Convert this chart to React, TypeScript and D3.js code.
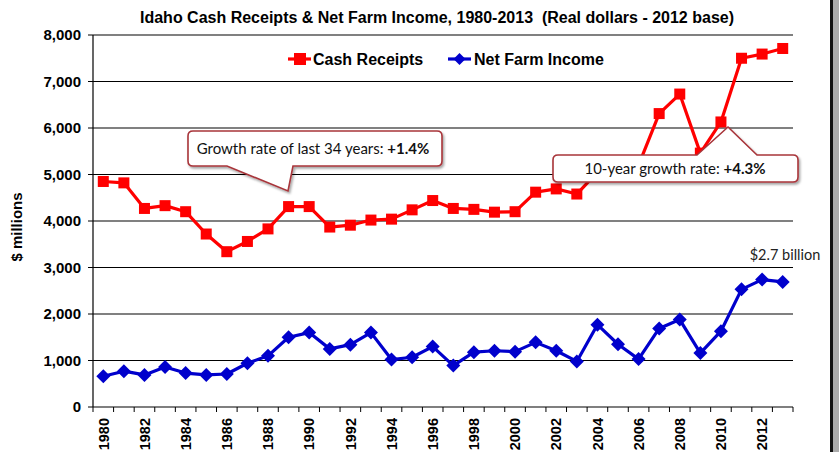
import React from "react";
import * as d3 from "d3";

const years: number[] = d3.range(1980, 2014);
const cashReceipts: number[] = [
  4850, 4820, 4270, 4330, 4200, 3720, 3340, 3560, 3830, 4310,
  4310, 3870, 3910, 4020, 4040, 4240, 4440, 4270, 4250, 4190,
  4200, 4620, 4690, 4580, 5050, 5100, 5200, 6310, 6730, 5460,
  6130, 7500, 7590, 7710,
];
const netFarmIncome: number[] = [
  660, 770, 690, 860, 730, 690, 710, 940, 1100, 1500,
  1600, 1250, 1340, 1600, 1020, 1070, 1300, 890, 1180, 1210,
  1190, 1390, 1210, 980, 1770, 1350, 1030, 1690, 1880, 1160,
  1630, 2530, 2740, 2690,
];
const yTicks: number[] = [0, 1000, 2000, 3000, 4000, 5000, 6000, 7000, 8000];
const xLabelYears: number[] = years.filter((y) => y % 2 === 0);

const W = 839;
const H = 452;
const L = 93;
const R = 793;
const T = 35;
const B = 407;

const RED = "#FF0000";
const BLUE = "#0000CC";
const BORDER = "#A8353A";

export default function App() {
  const x = d3.scaleBand<number>().domain(years).range([L, R]);
  const y = d3.scaleLinear().domain([0, 8000]).range([B, T]);
  const cx = (yr: number) => (x(yr) as number) + x.bandwidth() / 2;

  const line = d3
    .line<number>()
    .x((_, i) => cx(years[i]))
    .y((d) => y(d));

  const boundaries = years.map((yr) => x(yr) as number).concat([R]);
  const fontAxis = "'Liberation Sans', Arial, sans-serif";
  const fontNote = "Lato, Carlito, 'Open Sans', sans-serif";

  return (
    <div style={{ position: "absolute", left: 0, top: 0 }}>
      <svg width={W} height={H} style={{ display: "block", background: "#fff" }}>
        <defs>
          <filter id="sh" x="-10%" y="-30%" width="120%" height="180%">
            <feDropShadow dx="1.5" dy="2" stdDeviation="1.2" floodColor="#000" floodOpacity="0.35" />
          </filter>
        </defs>
        <rect x={0} y={0} width={W} height={H} fill="#fff" />

        {/* title */}
        <text
          x={437}
          y={23}
          textAnchor="middle"
          fontFamily={fontAxis}
          fontWeight="bold"
          fontSize={16}
          fill="#000"
        >
          Idaho Cash Receipts &amp; Net Farm Income, 1980-2013{"\u00a0\u00a0"}(Real dollars - 2012 base)
        </text>

        {/* gridlines */}
        {yTicks
          .filter((t) => t > 0)
          .map((t) => (
            <line
              key={"g" + t}
              x1={L}
              x2={R}
              y1={y(t)}
              y2={y(t)}
              stroke={(t / 1000) % 2 === 0 ? "#808080" : "#000"}
              strokeWidth={(t / 1000) % 2 === 0 ? 1.8 : 1.1}
            />
          ))}

        {/* y axis */}
        <line x1={L} x2={L} y1={T} y2={B} stroke="#000" strokeWidth={1.2} />
        {yTicks.map((t) => (
          <g key={"yt" + t}>
            <line x1={L - 5} x2={L} y1={y(t)} y2={y(t)} stroke="#000" strokeWidth={1} />
            <text
              x={L - 12}
              y={y(t)}
              dy="0.36em"
              textAnchor="end"
              fontFamily={fontAxis}
              fontWeight="bold"
              fontSize={15}
              fill="#000"
            >
              {d3.format(",")(t)}
            </text>
          </g>
        ))}
        <text
          transform={`translate(22,${(T + B) / 2 + 6}) rotate(-90)`}
          textAnchor="middle"
          fontFamily={fontAxis}
          fontWeight="bold"
          fontSize={15}
          fill="#000"
        >
          $ millions
        </text>

        {/* x axis */}
        <line x1={L} x2={R} y1={B} y2={B} stroke="#000" strokeWidth={1.2} />
        {boundaries.map((bx, i) => (
          <line key={"xt" + i} x1={bx} x2={bx} y1={B} y2={B + 5} stroke="#000" strokeWidth={1} />
        ))}
        {xLabelYears.map((yr) => (
          <text
            key={"xl" + yr}
            transform={`translate(${cx(yr)},${B + 11}) rotate(-90)`}
            textAnchor="end"
            dy="0.36em"
            fontFamily={fontAxis}
            fontWeight="bold"
            fontSize={14.5}
            fill="#000"
          >
            {yr}
          </text>
        ))}

        {/* series */}
        <path d={line(netFarmIncome) || ""} fill="none" stroke={BLUE} strokeWidth={3.2} strokeLinejoin="round" />
        {netFarmIncome.map((v, i) => {
          const px = cx(years[i]);
          const py = y(v);
          const s = 7;
          return (
            <path
              key={"b" + i}
              d={`M${px},${py - s}L${px + s},${py}L${px},${py + s}L${px - s},${py}Z`}
              fill={BLUE}
            />
          );
        })}
        <path d={line(cashReceipts) || ""} fill="none" stroke={RED} strokeWidth={3.2} strokeLinejoin="round" />
        {cashReceipts.map((v, i) => {
          const px = cx(years[i]);
          const py = y(v);
          const s = 5.5;
          return <rect key={"r" + i} x={px - s} y={py - s} width={2 * s} height={2 * s} fill={RED} />;
        })}

        {/* legend */}
        <g fontFamily={fontAxis} fontWeight="bold" fontSize={16} fill="#000">
          <line x1={288} x2={311} y1={59} y2={59} stroke={RED} strokeWidth={3.2} />
          <rect x={294} y={53} width={12} height={12} fill={RED} />
          <text x={313} y={59} dy="0.36em">Cash Receipts</text>
          <line x1={448} x2={471} y1={59} y2={59} stroke={BLUE} strokeWidth={3.2} />
          <path d="M459.5,53L465.5,59L459.5,65L453.5,59Z" fill={BLUE} />
          <text x={474} y={59} dy="0.36em">Net Farm Income</text>
        </g>

        {/* callout 1 */}
        <path
          d="M193,131 H437 Q442,131 442,136 V161 Q442,166 437,166 H293 L288,191 L227,166 H193 Q188,166 188,161 V136 Q188,131 193,131 Z"
          fill="#fff"
          stroke={BORDER}
          strokeWidth={1.6}
          filter="url(#sh)"
        />
        <text x={313} y={149} dy="0.36em" textAnchor="middle" fontFamily={fontNote} fontSize={15} fill="#111">
          Growth rate of last 34 years: <tspan fontWeight="bold">+1.4%</tspan>
        </text>

        {/* callout 2 */}
        <path
          d="M558,155 H697 L728,127 L757,155 H793 Q798,155 798,160 V177 Q798,182 793,182 H558 Q553,182 553,177 V160 Q553,155 558,155 Z"
          fill="#fff"
          stroke={BORDER}
          strokeWidth={1.6}
          filter="url(#sh)"
        />
        <text x={675} y={169} dy="0.36em" textAnchor="middle" fontFamily={fontNote} fontSize={15} fill="#111">
          10-year growth rate: <tspan fontWeight="bold">+4.3%</tspan>
        </text>

        {/* annotation */}
        <text x={785} y={260} textAnchor="middle" fontFamily={fontNote} fontSize={14.5} fill="#222">
          $2.7 billion
        </text>

        {/* right frame */}
        <rect x={830} y={0} width={3} height={H} fill="#111" />
        <rect x={833} y={0} width={6} height={H} fill="#ABABAB" />
      </svg>
    </div>
  );
}
